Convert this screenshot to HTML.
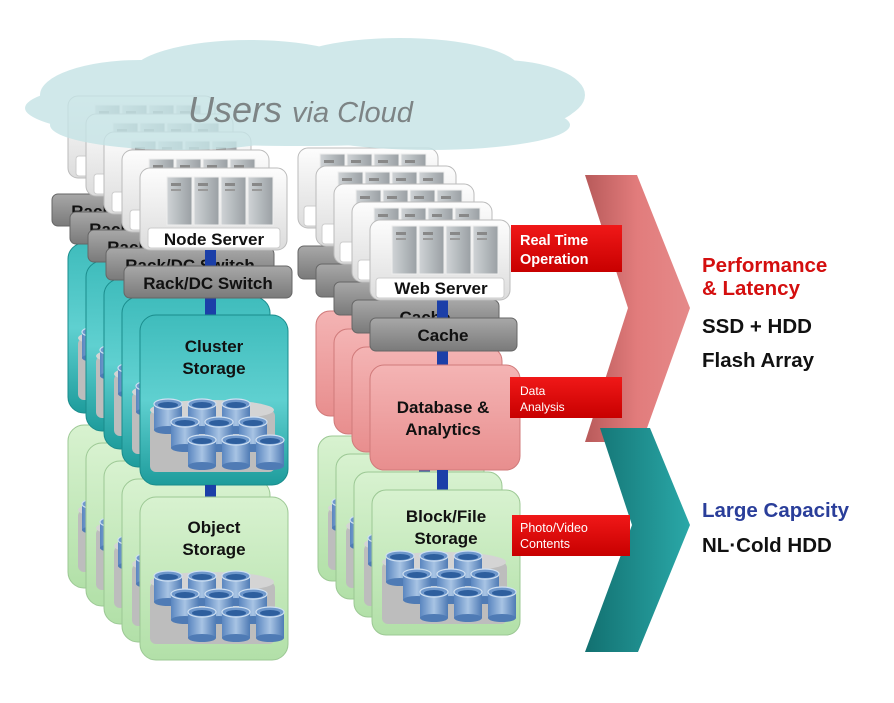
<!DOCTYPE html>
<html><head><meta charset="utf-8"><style>
html,body{margin:0;padding:0;background:#fff;}
svg{display:block;font-family:"Liberation Sans","DejaVu Sans",sans-serif;}
.b{font-weight:bold;fill:#111;}
</style></head><body>
<svg width="894" height="703" viewBox="0 0 894 703" xmlns="http://www.w3.org/2000/svg">
<defs>
<linearGradient id="gw" x1="0" y1="0" x2="0" y2="1"><stop offset="0" stop-color="#fdfdfd"/><stop offset="1" stop-color="#dcdcdc"/></linearGradient>
<linearGradient id="gg" x1="0" y1="0" x2="0" y2="1"><stop offset="0" stop-color="#a8a8a8"/><stop offset="1" stop-color="#7a7a7a"/></linearGradient>
<linearGradient id="gt" x1="0" y1="0" x2="0" y2="1"><stop offset="0" stop-color="#3fbcbc"/><stop offset="0.5" stop-color="#5fd0d0"/><stop offset="1" stop-color="#1e9c9c"/></linearGradient>
<linearGradient id="gn" x1="0" y1="0" x2="0" y2="1"><stop offset="0" stop-color="#d8f2d0"/><stop offset="1" stop-color="#b2e0a8"/></linearGradient>
<linearGradient id="gp" x1="0" y1="0" x2="0" y2="1"><stop offset="0" stop-color="#f4b4b4"/><stop offset="1" stop-color="#e88e8e"/></linearGradient>
<linearGradient id="gs" x1="0" y1="0" x2="1" y2="0"><stop offset="0" stop-color="#cfd3d6"/><stop offset="1" stop-color="#9aa0a4"/></linearGradient>
<linearGradient id="gc" x1="0" y1="0" x2="1" y2="0"><stop offset="0" stop-color="#5a86c0"/><stop offset="0.5" stop-color="#a8c4e4"/><stop offset="1" stop-color="#4f7bb5"/></linearGradient>
<linearGradient id="gpk" x1="0" y1="0" x2="1" y2="0"><stop offset="0" stop-color="#b85a5a"/><stop offset="0.5" stop-color="#e27c7c"/><stop offset="1" stop-color="#e58a8a"/></linearGradient>
<linearGradient id="gtl" x1="0" y1="0" x2="1" y2="0"><stop offset="0" stop-color="#127070"/><stop offset="1" stop-color="#2aa8a8"/></linearGradient>
<linearGradient id="gr" x1="0" y1="0" x2="0" y2="1"><stop offset="0" stop-color="#f01818"/><stop offset="1" stop-color="#c80000"/></linearGradient>
<g id="cyl"><rect x="0" y="4" width="28" height="26" fill="url(#gc)"/><ellipse cx="14" cy="30" rx="14" ry="4" fill="#4f7bb5"/><ellipse cx="14" cy="4" rx="14" ry="5" fill="#6f98cc" stroke="#cfe0f2" stroke-width="1.2"/><ellipse cx="14" cy="5" rx="10" ry="3" fill="#2e5f9e"/></g>
<g id="disks"><rect x="0" y="10" width="125" height="62" rx="6" fill="#bdbdbd"/><ellipse cx="62" cy="10" rx="62" ry="10" fill="#d4d4d4"/>
<use href="#cyl" x="4" y="0"/><use href="#cyl" x="38" y="0"/><use href="#cyl" x="72" y="0"/>
<use href="#cyl" x="21" y="18"/><use href="#cyl" x="55" y="18"/><use href="#cyl" x="89" y="18"/>
<use href="#cyl" x="38" y="36"/><use href="#cyl" x="72" y="36"/><use href="#cyl" x="106" y="36"/></g>
<g id="srv"><rect x="0" y="0" width="25" height="48" fill="url(#gs)" stroke="#eee"/><rect x="4" y="6" width="10" height="3" fill="#888"/><rect x="4" y="12" width="10" height="2" fill="#999"/></g>
<g id="srvs"><use href="#srv" x="0"/><use href="#srv" x="27"/><use href="#srv" x="54"/><use href="#srv" x="81"/></g>
<g id="L">
<rect x="140" y="168" width="147" height="82" rx="10" fill="url(#gw)" stroke="#bbb"/>
<use href="#srvs" x="167" y="177"/>
<rect x="148" y="228" width="132" height="20" rx="3" fill="#fff" stroke="#ccc"/>
<text x="214" y="245" class="b" font-size="17" text-anchor="middle">Node Server</text>
<rect x="205" y="250" width="11" height="66" fill="#1b3fa8"/>
<rect x="124" y="266" width="168" height="32" rx="6" fill="url(#gg)" stroke="#666"/>
<text x="208" y="289" class="b" font-size="17" text-anchor="middle">Rack/DC Switch</text>
<rect x="140" y="315" width="148" height="170" rx="16" fill="url(#gt)" stroke="#1a8c8c"/>
<text x="214" y="352" class="b" font-size="17" text-anchor="middle">Cluster</text>
<text x="214" y="374" class="b" font-size="17" text-anchor="middle">Storage</text>
<use href="#disks" x="150" y="400"/>
<rect x="205" y="485" width="11" height="14" fill="#1b3fa8"/>
<rect x="140" y="497" width="148" height="163" rx="16" fill="url(#gn)" stroke="#9cc894"/>
<text x="214" y="533" class="b" font-size="17" text-anchor="middle">Object</text>
<text x="214" y="555" class="b" font-size="17" text-anchor="middle">Storage</text>
<use href="#disks" x="150" y="572"/>
</g>
<g id="R1">
<rect x="370" y="220" width="140" height="80" rx="10" fill="url(#gw)" stroke="#bbb"/>
<use href="#srvs" x="392" y="226"/>
<rect x="376" y="278" width="128" height="20" rx="3" fill="#fff" stroke="#ccc"/>
<text x="441" y="294" class="b" font-size="17" text-anchor="middle">Web Server</text>
<rect x="370" y="318" width="147" height="33" rx="6" fill="url(#gg)" stroke="#666"/>
<text x="443" y="341" class="b" font-size="17" text-anchor="middle">Cache</text>
</g>
<g id="R2">
<rect x="437" y="300" width="11" height="66" fill="#1b3fa8"/>
<rect x="370" y="365" width="150" height="105" rx="14" fill="url(#gp)" stroke="#d07a7a"/>
<text x="443" y="413" class="b" font-size="17" text-anchor="middle">Database &amp;</text>
<text x="443" y="435" class="b" font-size="17" text-anchor="middle">Analytics</text>
<rect x="437" y="470" width="11" height="22" fill="#1b3fa8"/>
<rect x="372" y="490" width="148" height="145" rx="14" fill="url(#gn)" stroke="#9cc894"/>
<text x="446" y="522" class="b" font-size="17" text-anchor="middle">Block/File</text>
<text x="446" y="544" class="b" font-size="17" text-anchor="middle">Storage</text>
<use href="#disks" x="382" y="552"/>
</g>
</defs>
<polygon points="585,175 637,175 690,308 642,442 585,442 628,308" fill="url(#gpk)"/>
<polygon points="600,428 650,428 690,525 638,652 585,652 632,525" fill="url(#gtl)"/>
<use href="#L" x="-72" y="-72"/><use href="#L" x="-54" y="-54"/><use href="#L" x="-36" y="-36"/><use href="#L" x="-18" y="-18"/><use href="#L"/>
<use href="#R2" x="-54" y="-54"/><use href="#R2" x="-36" y="-36"/><use href="#R2" x="-18" y="-18"/>
<use href="#R1" x="-72" y="-72"/><use href="#R1" x="-54" y="-54"/><use href="#R1" x="-36" y="-36"/><use href="#R1" x="-18" y="-18"/>
<use href="#R2"/><use href="#R1"/>
<g fill="#c6e4e6" opacity="0.82">
<ellipse cx="300" cy="108" rx="275" ry="38"/>
<ellipse cx="140" cy="95" rx="100" ry="35"/>
<ellipse cx="250" cy="75" rx="120" ry="35"/>
<ellipse cx="400" cy="70" rx="120" ry="32"/>
<ellipse cx="500" cy="95" rx="85" ry="35"/>
<ellipse cx="180" cy="125" rx="130" ry="25"/>
<ellipse cx="430" cy="125" rx="140" ry="25"/>
</g>
<text x="188" y="122" font-size="36" font-style="italic" fill="#7d8485">Users <tspan font-size="29">via Cloud</tspan></text>
<rect x="511" y="225" width="111" height="47" fill="url(#gr)"/>
<text x="520" y="245" font-size="14.5" font-weight="bold" fill="#fff">Real Time</text>
<text x="520" y="264" font-size="14.5" font-weight="bold" fill="#fff">Operation</text>
<rect x="510" y="377" width="112" height="41" fill="url(#gr)"/>
<text x="520" y="395" font-size="12" fill="#fff">Data</text>
<text x="520" y="411" font-size="12" fill="#fff">Analysis</text>
<rect x="512" y="515" width="118" height="41" fill="url(#gr)"/>
<text x="520" y="532" font-size="12.5" fill="#fff">Photo/Video</text>
<text x="520" y="548" font-size="12.5" fill="#fff">Contents</text>
<text x="702" y="272" font-size="20.5" font-weight="bold" fill="#d40f0f">Performance</text>
<text x="702" y="295" font-size="20.5" font-weight="bold" fill="#d40f0f">&amp; Latency</text>
<text x="702" y="333" font-size="20.5" font-weight="bold" fill="#111">SSD + HDD</text>
<text x="702" y="367" font-size="20.5" font-weight="bold" fill="#111">Flash Array</text>
<text x="702" y="517" font-size="20.5" font-weight="bold" fill="#2a3e9a">Large Capacity</text>
<text x="702" y="552" font-size="20.5" font-weight="bold" fill="#111">NL·Cold HDD</text>
</svg>
</body></html>
